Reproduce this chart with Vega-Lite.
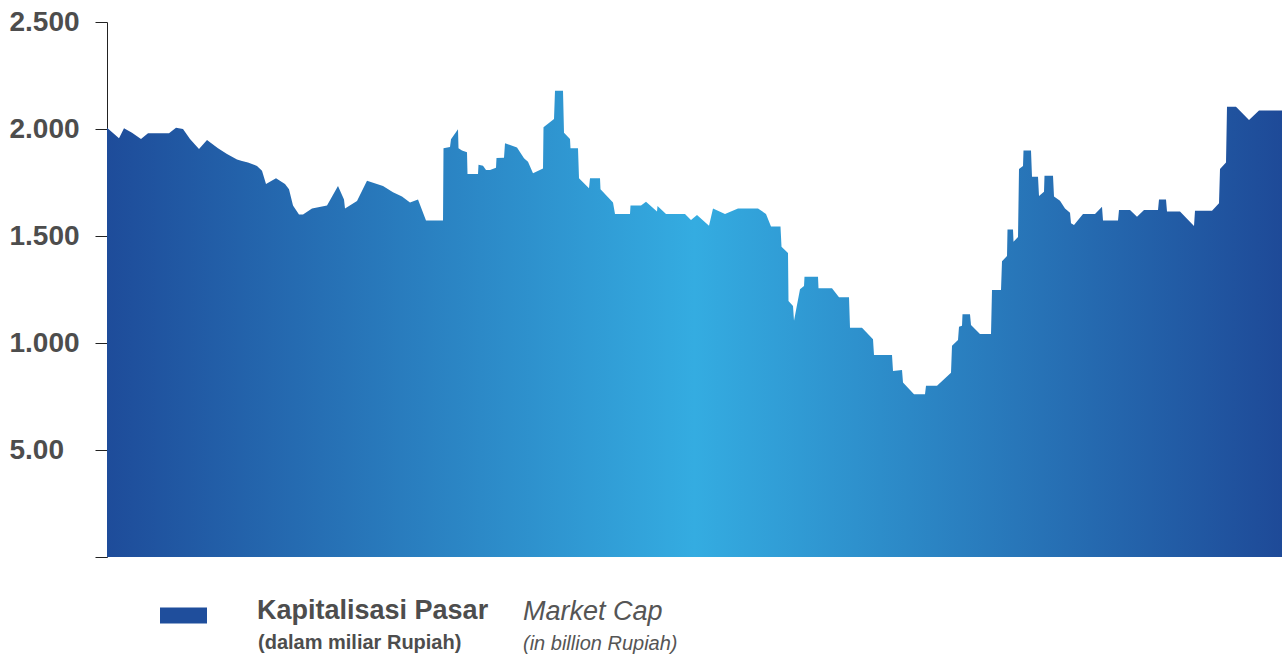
{
  "$schema": "https://vega.github.io/schema/vega-lite/v6.json",
  "width": 1175,
  "height": 535,
  "autosize": {"type": "none"},
  "padding": {"left": 107, "top": 22, "right": 0, "bottom": 100},
  "background": "white",
  "config": {"view": {"stroke": null}, "font": "Liberation Sans"},
  "datasets": {
    "cap": [
      {"day":0,"cap":2006},{"day":12,"cap":1957},{"day":17,"cap":2003},{"day":25,"cap":1983},{"day":34,"cap":1953},{"day":41,"cap":1980},{"day":62,"cap":1980},{"day":69,"cap":2006},{"day":76,"cap":2000},{"day":83,"cap":1953},{"day":92,"cap":1907},{"day":100,"cap":1949},{"day":111,"cap":1910},{"day":120,"cap":1883},{"day":130,"cap":1858},{"day":135,"cap":1850},{"day":141,"cap":1844},{"day":150,"cap":1827},{"day":155,"cap":1805},{"day":159,"cap":1743},{"day":169,"cap":1770},{"day":178,"cap":1743},{"day":182,"cap":1718},{"day":186,"cap":1642},{"day":192,"cap":1601},{"day":196,"cap":1601},{"day":205,"cap":1629},{"day":220,"cap":1642},{"day":231,"cap":1734},{"day":237,"cap":1671},{"day":238,"cap":1629},{"day":250,"cap":1664},{"day":260,"cap":1758},{"day":276,"cap":1734},{"day":286,"cap":1704},{"day":295,"cap":1684},{"day":303,"cap":1656},{"day":311,"cap":1671},{"day":319,"cap":1572},{"day":336,"cap":1572},{"day":336.5,"cap":1910},{"day":343,"cap":1916},{"day":344,"cap":1952},{"day":351,"cap":1999},{"day":351.5,"cap":1910},{"day":355,"cap":1899},{"day":360,"cap":1891},{"day":360.5,"cap":1790},{"day":371,"cap":1790},{"day":371.5,"cap":1833},{"day":376,"cap":1828},{"day":379,"cap":1808},{"day":383,"cap":1808},{"day":389,"cap":1819},{"day":389.5,"cap":1864},{"day":397,"cap":1866},{"day":398,"cap":1933},{"day":410,"cap":1914},{"day":417,"cap":1863},{"day":421,"cap":1847},{"day":426,"cap":1793},{"day":436,"cap":1816},{"day":436.5,"cap":2008},{"day":447,"cap":2047},{"day":448,"cap":2179},{"day":456,"cap":2179},{"day":457,"cap":1983},{"day":463,"cap":1953},{"day":463.5,"cap":1910},{"day":471,"cap":1910},{"day":472,"cap":1770},{"day":482,"cap":1723},{"day":483,"cap":1770},{"day":493,"cap":1770},{"day":493.5,"cap":1718},{"day":506,"cap":1656},{"day":508,"cap":1603},{"day":523,"cap":1603},{"day":523.5,"cap":1642},{"day":534,"cap":1642},{"day":539,"cap":1660},{"day":550,"cap":1614},{"day":550.5,"cap":1640},{"day":559,"cap":1603},{"day":578,"cap":1603},{"day":584,"cap":1575},{"day":590,"cap":1598},{"day":602,"cap":1548},{"day":606,"cap":1629},{"day":618,"cap":1603},{"day":631,"cap":1629},{"day":651,"cap":1629},{"day":659,"cap":1603},{"day":664,"cap":1544},{"day":673.5,"cap":1544},{"day":674.5,"cap":1450},{"day":681,"cap":1421},{"day":681.5,"cap":1196},{"day":686,"cap":1173},{"day":687,"cap":1104},{"day":693,"cap":1251},{"day":697,"cap":1266},{"day":697.5,"cap":1310},{"day":711,"cap":1310},{"day":711.5,"cap":1256},{"day":725,"cap":1256},{"day":732,"cap":1214},{"day":742,"cap":1214},{"day":743,"cap":1071},{"day":755,"cap":1071},{"day":766,"cap":1017},{"day":767,"cap":944},{"day":785,"cap":944},{"day":786,"cap":869},{"day":795,"cap":874},{"day":796,"cap":816},{"day":807,"cap":760},{"day":818,"cap":760},{"day":819,"cap":800},{"day":830,"cap":800},{"day":844,"cap":861},{"day":845,"cap":987},{"day":851,"cap":1014},{"day":852,"cap":1076},{"day":855,"cap":1081},{"day":855.5,"cap":1134},{"day":863,"cap":1134},{"day":864,"cap":1084},{"day":873,"cap":1042},{"day":884,"cap":1042},{"day":885,"cap":1248},{"day":894,"cap":1248},{"day":895,"cap":1382},{"day":900,"cap":1407},{"day":900.5,"cap":1530},{"day":906,"cap":1530},{"day":906.5,"cap":1473},{"day":911,"cap":1495},{"day":912,"cap":1813},{"day":916,"cap":1827},{"day":916.5,"cap":1899},{"day":924,"cap":1899},{"day":925,"cap":1777},{"day":931,"cap":1777},{"day":932,"cap":1687},{"day":937,"cap":1707},{"day":937.5,"cap":1782},{"day":946,"cap":1782},{"day":947,"cap":1684},{"day":953,"cap":1665},{"day":958,"cap":1629},{"day":963,"cap":1609},{"day":964,"cap":1560},{"day":967,"cap":1551},{"day":976,"cap":1603},{"day":988,"cap":1603},{"day":995,"cap":1637},{"day":996,"cap":1572},{"day":1011,"cap":1572},{"day":1012,"cap":1622},{"day":1023,"cap":1622},{"day":1030,"cap":1590},{"day":1037,"cap":1622},{"day":1051,"cap":1622},{"day":1052,"cap":1671},{"day":1059,"cap":1671},{"day":1060,"cap":1614},{"day":1073,"cap":1614},{"day":1087,"cap":1547},{"day":1088,"cap":1618},{"day":1105,"cap":1618},{"day":1112,"cap":1653},{"day":1113,"cap":1813},{"day":1119,"cap":1843},{"day":1120,"cap":2104},{"day":1129,"cap":2104},{"day":1142,"cap":2042},{"day":1152,"cap":2086},{"day":1175,"cap":2086}
    ],
    "legend": [
      {"sym": "Kapitalisasi Pasar", "id": "Kapitalisasi Pasar", "en": "Market Cap"}
    ]
  },
  "layer": [
    {
      "data": {"name": "cap"},
      "mark": {
        "type": "area",
        "interpolate": "linear",
        "color": {
          "gradient": "linear",
          "x1": 0, "y1": 0, "x2": 1, "y2": 0,
          "stops": [
            {"offset": 0, "color": "#1e4c9a"},
            {"offset": 0.5, "color": "#34ace1"},
            {"offset": 1, "color": "#1e4a98"}
          ]
        }
      },
      "encoding": {
        "x": {"field": "day", "type": "quantitative", "scale": {"domain": [0, 1175], "nice": false, "zero": false}, "axis": null},
        "y": {
          "field": "cap", "type": "quantitative",
          "scale": {"domain": [0, 2500], "nice": false},
          "axis": {
            "title": null,
            "values": [0, 500, 1000, 1500, 2000, 2500],
            "labelExpr": "datum.value == 0 ? '' : datum.value == 500 ? '5.00' : replace(format(datum.value, ','), ',', '.')",
            "labelAlign": "left",
            "labelBaseline": "middle",
            "labelPadding": 86,
            "tickSize": 12,
            "labelFont": "Liberation Sans",
            "labelFontSize": 28,
            "labelFontWeight": "bold",
            "labelColor": "#4d4d4d",
            "domainColor": "#222222",
            "tickColor": "#222222",
            "grid": false,
            "labelFlush": false,
            "labelOverlap": false
          }
        }
      }
    },
    {
      "data": {"name": "legend"},
      "mark": {"type": "point", "opacity": 0, "filled": true},
      "encoding": {
        "color": {
          "field": "sym", "type": "nominal",
          "scale": {"range": ["#1f4e9c"]},
          "legend": {
            "orient": "none", "legendX": 53, "legendY": 570,
            "title": null, "labelExpr": "''",
            "symbolType": "M-1,-0.34H1V0.34H-1Z", "symbolSize": 2209,
            "symbolOpacity": 1, "symbolStrokeWidth": 0, "padding": 0, "labelOffset": 0
          }
        },
        "shape": {
          "field": "id", "type": "nominal",
          "legend": {
            "orient": "none", "legendX": 151, "legendY": 575.5,
            "title": "(dalam miliar Rupiah)", "titleOrient": "bottom", "titleAnchor": "start",
            "titleFont": "Liberation Sans", "titleFontSize": 20, "titleFontWeight": "bold", "titleColor": "#4d4d4d",
            "titleLimit": 500, "titlePadding": 8,
            "labelFont": "Liberation Sans", "labelFontSize": 27, "labelFontWeight": "bold", "labelColor": "#4d4d4d", "labelLimit": 500,
            "symbolOpacity": 0, "symbolSize": 1, "labelOffset": -28, "padding": 0
          }
        },
        "size": {
          "field": "en", "type": "ordinal",
          "scale": {"range": [1]},
          "legend": {
            "orient": "none", "legendX": 416, "legendY": 589.5,
            "title": "(in billion Rupiah)", "titleOrient": "bottom", "titleAnchor": "start",
            "titleFont": "Liberation Sans", "titleFontSize": 20, "titleFontWeight": "normal", "titleFontStyle": "italic", "titleColor": "#555555",
            "titleLimit": 500, "titlePadding": 9,
            "labelFont": "Liberation Sans", "labelFontSize": 27, "labelFontStyle": "italic", "labelColor": "#555555", "labelLimit": 500,
            "symbolOpacity": 0, "symbolSize": 1, "labelOffset": 0, "padding": 0
          }
        }
      }
    }
  ]
}
